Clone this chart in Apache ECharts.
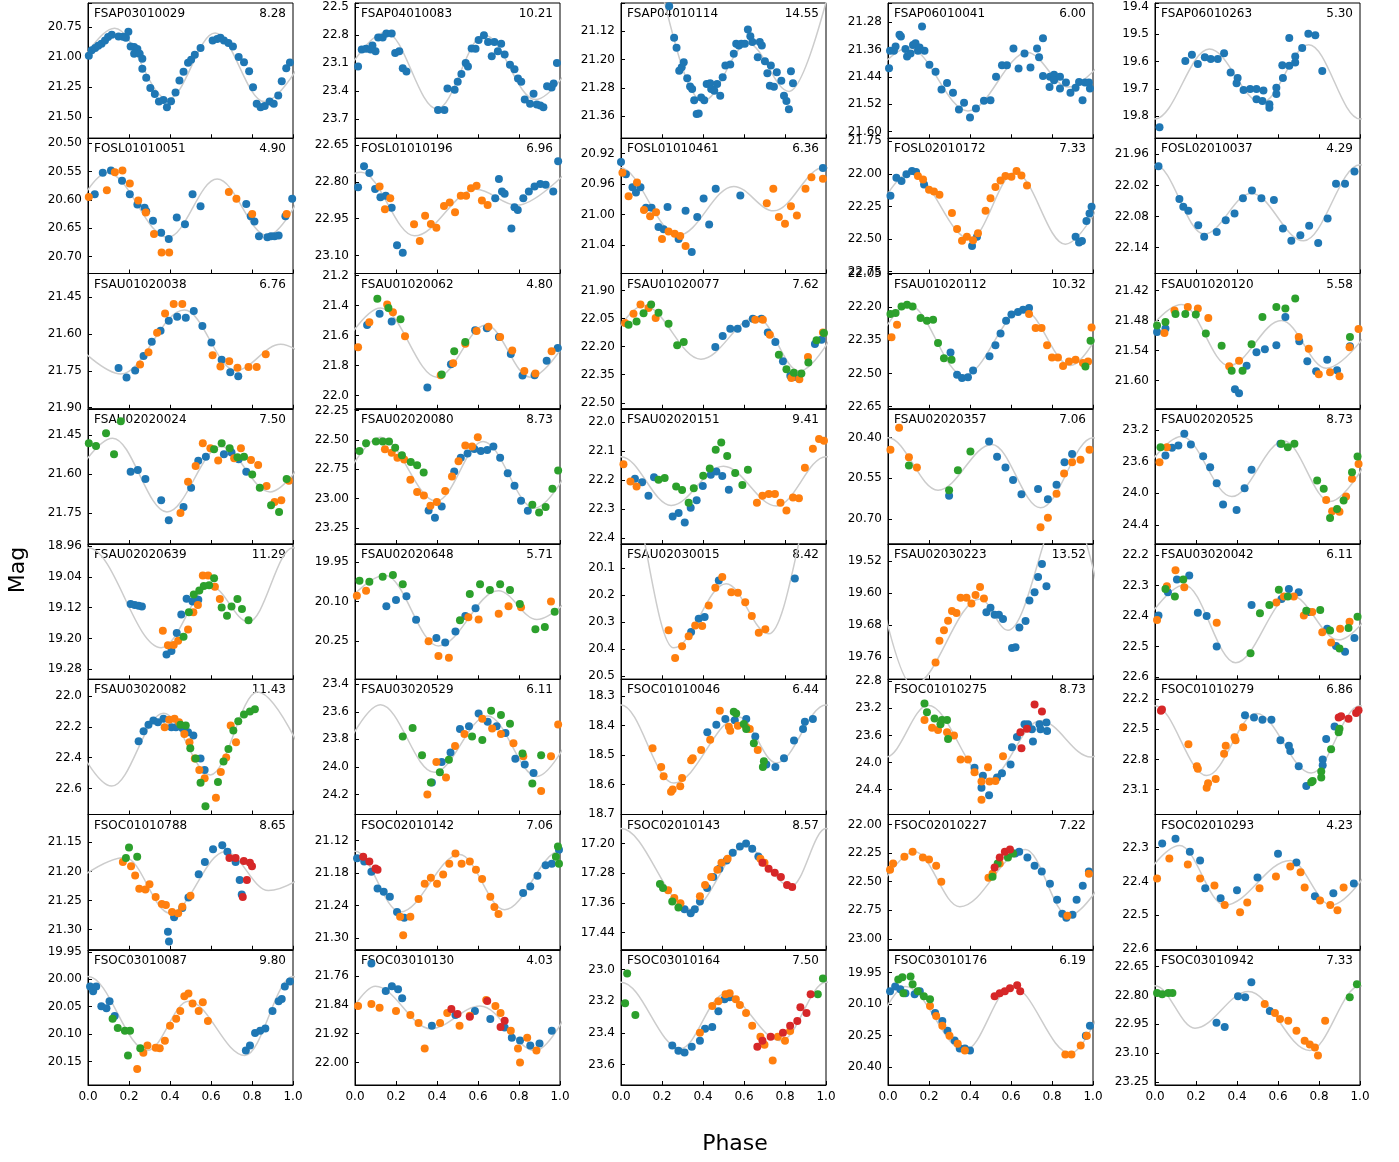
<!DOCTYPE html>
<html>
<head>
<meta charset="utf-8">
<script src="https://cdn.jsdelivr.net/npm/echarts@6/dist/echarts.min.js"></script>
<style>
  html, body { margin: 0; padding: 0; background: #fff; }
  #chart { width: 1399px; height: 1162px; }
</style>
</head>
<body>
<div id="chart"></div>
<script>
// panel labels and periods, row by row
const names = [
  'FSAP03010029','FSAP04010083','FSAP04010114','FSAP06010041','FSAP06010263',
  'FOSL01010051','FOSL01010196','FOSL01010461','FOSL02010172','FOSL02010037',
  'FSAU01020038','FSAU01020062','FSAU01020077','FSAU01020112','FSAU01020120',
  'FSAU02020024','FSAU02020080','FSAU02020151','FSAU02020357','FSAU02020525',
  'FSAU02020639','FSAU02020648','FSAU02030015','FSAU02030223','FSAU03020042',
  'FSAU03020082','FSAU03020529','FSOC01010046','FSOC01010275','FSOC01010279',
  'FSOC01010788','FSOC02010142','FSOC02010143','FSOC02010227','FSOC02010293',
  'FSOC03010087','FSOC03010130','FSOC03010164','FSOC03010176','FSOC03010942'
];
const periods = [
  '8.28','10.21','14.55','6.00','5.30','4.90','6.96','6.36','7.33','4.29',
  '6.76','4.80','7.62','10.32','5.58','7.50','8.73','9.41','7.06','8.73',
  '11.29','5.71','8.42','13.52','6.11','11.43','6.11','6.44','8.73','6.86',
  '8.65','7.06','8.57','7.22','4.23','9.80','4.03','7.50','6.19','7.33'
];

// magnitude limits (top, bottom) and tick spacing for each panel
const yLimits = [
  [20.55,21.675],[22.457,23.904],[21.041,21.422],[21.224,21.62],[19.385,19.881],
  [20.491,20.73],[22.621,23.174],[20.90,21.077],[21.727,22.765],[21.929,22.19],
  [21.353,21.905],[21.187,22.087],[21.809,22.532],[22.048,22.66],[21.386,21.656],
  [21.35,21.869],[22.233,23.387],[21.955,22.421],[20.293,20.793],[22.935,24.64],
  [18.955,19.306],[19.882,20.394],[20.011,20.511],[19.478,19.815],[22.164,22.607],
  [21.889,22.77],[23.364,24.345],[18.243,18.702],[22.77,24.77],[22.0,23.35],
  [21.102,21.335],[21.072,21.322],[17.122,17.486],[21.912,23.096],[22.202,22.602],
  [19.946,20.193],[21.686,22.063],[22.875,23.73],[19.842,20.484],[22.563,23.265]
];
const ySteps = [
  0.25,0.3,0.08,0.08,0.1, 0.05,0.15,0.04,0.25,0.06,
  0.15,0.2,0.15,0.15,0.06, 0.15,0.25,0.1,0.15,0.4,
  0.08,0.15,0.1,0.08,0.1, 0.2,0.2,0.1,0.4,0.3,
  0.05,0.06,0.08,0.25,0.1, 0.05,0.08,0.2,0.15,0.15
];
const xTicks = [0, 0.2, 0.4, 0.6, 0.8, 1.0];

// model curve: turning points [phase, mag], one beyond each edge
const curves = [
  [[-0.14,21.37],[0.13,20.76],[0.39,21.35],[0.62,20.80],[0.86,21.37],[1.13,20.76]],
  [[-0.12,23.49],[0.15,22.77],[0.40,23.59],[0.63,22.80],[0.88,23.49],[1.15,22.77]],
  [[-0.18,21.29],[0.02,20.75],[0.40,21.317],[0.62,21.155],[0.82,21.29],[1.08,20.85]],
  [[-0.12,21.47],[0.1,21.355],[0.39,21.54],[0.68,21.369],[0.88,21.47],[1.1,21.355]],
  [[-0.25,19.538],[0.0,19.81],[0.265,19.554],[0.52,19.75],[0.75,19.538],[1.0,19.81],[1.265,19.554]],
  [[-0.125,20.663],[0.094,20.552],[0.39,20.666],[0.63,20.563],[0.875,20.663],[1.094,20.552]],
  [[-0.21,22.895],[0.03,22.76],[0.29,23.02],[0.59,22.83],[0.79,22.895],[1.03,22.76]],
  [[-0.255,20.995],[-0.01,20.938],[0.28,21.027],[0.55,20.963],[0.745,20.995],[0.99,20.938],[1.28,21.027]],
  [[-0.135,22.54],[0.11,21.99],[0.40,22.50],[0.62,21.99],[0.865,22.54],[1.11,21.99]],
  [[-0.275,22.127],[0.0,21.98],[0.24,22.114],[0.47,22.035],[0.725,22.127],[1.0,21.98],[1.24,22.114]],
  [[-0.06,21.642],[0.16,21.763],[0.47,21.502],[0.72,21.749],[0.94,21.642],[1.16,21.763]],
  [[-0.145,21.877],[0.125,21.416],[0.40,21.877],[0.64,21.53],[0.855,21.877],[1.125,21.416]],
  [[-0.13,22.331],[0.11,21.98],[0.39,22.267],[0.66,22.042],[0.87,22.331],[1.11,21.98]],
  [[-0.11,22.464],[0.1,22.189],[0.37,22.509],[0.66,22.212],[0.89,22.464],[1.1,22.189]],
  [[-0.165,21.575],[0.13,21.448],[0.36,21.57],[0.617,21.48],[0.835,21.575],[1.13,21.448]],
  [[-0.112,21.669],[0.12,21.463],[0.385,21.746],[0.65,21.495],[0.888,21.669],[1.12,21.463]],
  [[-0.124,23.081],[0.124,22.477],[0.397,23.022],[0.625,22.512],[0.876,23.081],[1.124,22.477]],
  [[-0.242,22.29],[0.0,22.12],[0.245,22.288],[0.50,22.153],[0.758,22.29],[1.0,22.12],[1.245,22.288]],
  [[-0.256,20.659],[0.0,20.40],[0.244,20.594],[0.507,20.425],[0.744,20.659],[1.0,20.40],[1.244,20.594]],
  [[-0.146,24.105],[0.13,23.284],[0.374,24.042],[0.629,23.343],[0.854,24.105],[1.1,23.284]],
  [[-0.217,19.157],[0.0,18.965],[0.357,19.224],[0.597,19.064],[0.783,19.157],[1.0,18.965],[1.357,19.224]],
  [[-0.113,20.168],[0.146,20.0],[0.407,20.268],[0.70,20.059],[0.887,20.168],[1.146,20.0]],
  [[-0.279,20.343],[0.0,19.72],[0.257,20.395],[0.513,20.158],[0.721,20.343],[1.0,19.72],[1.257,20.395]],
  [[-0.13,19.37],[0.12,19.83],[0.45,19.615],[0.585,19.693],[0.87,19.37],[1.12,19.83]],
  [[-0.104,22.478],[0.143,22.298],[0.393,22.553],[0.665,22.333],[0.896,22.478],[1.143,22.298]],
  [[-0.173,21.972],[0.116,22.585],[0.368,22.11],[0.597,22.512],[0.827,21.972],[1.116,22.585]],
  [[-0.113,24.069],[0.124,23.549],[0.386,24.039],[0.647,23.63],[0.887,24.069],[1.124,23.549]],
  [[-0.242,18.527],[0.0,18.33],[0.257,18.595],[0.575,18.371],[0.758,18.527],[1.0,18.33],[1.257,18.595]],
  [[-0.256,23.384],[-0.01,23.92],[0.195,23.156],[0.488,24.248],[0.744,23.384],[0.99,23.92],[1.195,23.156]],
  [[-0.238,22.937],[0.0,22.265],[0.252,22.961],[0.495,22.343],[0.762,22.937],[1.0,22.265],[1.252,22.961]],
  [[-0.12,21.233],[0.18,21.176],[0.40,21.272],[0.67,21.166],[0.88,21.233],[1.18,21.176]],
  [[-0.27,21.248],[0.0,21.14],[0.22,21.252],[0.51,21.146],[0.73,21.248],[1.0,21.14],[1.22,21.252]],
  [[-0.17,17.315],[0.0,17.16],[0.34,17.377],[0.605,17.208],[0.83,17.315],[1.0,17.16],[1.34,17.377]],
  [[-0.12,22.798],[0.13,22.237],[0.35,22.719],[0.67,22.219],[0.88,22.798],[1.13,22.237]],
  [[-0.14,22.47],[0.12,22.294],[0.34,22.47],[0.66,22.338],[0.86,22.47],[1.12,22.294]],
  [[-0.235,20.139],[0.0,19.995],[0.29,20.13],[0.49,20.04],[0.765,20.139],[1.0,19.995],[1.29,20.13]],
  [[-0.12,21.967],[0.1,21.788],[0.37,21.906],[0.61,21.843],[0.88,21.967],[1.1,21.788]],
  [[-0.22,23.45],[0.0,23.08],[0.29,23.5],[0.505,23.156],[0.78,23.45],[1.0,23.08],[1.29,23.5]],
  [[-0.11,20.334],[0.085,20.016],[0.375,20.32],[0.605,20.016],[0.89,20.334],[1.085,20.016]],
  [[-0.245,23.086],[0.0,22.75],[0.195,22.97],[0.455,22.78],[0.755,23.086],[1.0,22.75],[1.195,22.97]]
];

// observations [phase, mag], one list per panel for each colour
const blue = [
  [[0.004,20.989],[0.018,20.944],[0.035,20.925],[0.05,20.906],[0.066,20.889],[0.083,20.861],[0.098,20.833],[0.116,20.814],[0.149,20.828],[0.171,20.83],[0.185,20.84],[0.197,20.79],[0.208,20.911],[0.225,20.917],[0.241,20.933],[0.225,20.972],[0.252,20.972],[0.265,21.014],[0.265,21.097],[0.284,21.172],[0.304,21.256],[0.326,21.306],[0.346,21.369],[0.368,21.356],[0.385,21.417],[0.405,21.367],[0.427,21.294],[0.446,21.194],[0.466,21.122],[0.488,21.047],[0.503,21.022],[0.521,20.981],[0.549,20.925],[0.608,20.861],[0.63,20.85],[0.646,20.839],[0.663,20.861],[0.685,20.883],[0.707,20.911],[0.735,21.0],[0.761,21.042],[0.786,21.117],[0.805,21.25],[0.823,21.389],[0.842,21.417],[0.862,21.406],[0.886,21.369],[0.906,21.389],[0.928,21.319],[0.945,21.2],[0.967,21.092],[0.985,21.044]],
  [[0.015,23.136],[0.033,22.955],[0.054,22.947],[0.076,22.955],[0.085,22.911],[0.1,22.973],[0.113,22.827],[0.135,22.827],[0.153,22.784],[0.179,22.784],[0.196,22.991],[0.216,22.973],[0.233,23.155],[0.251,23.191],[0.405,23.602],[0.436,23.602],[0.451,23.373],[0.486,23.384],[0.501,23.3],[0.519,23.216],[0.54,23.1],[0.551,23.136],[0.569,22.944],[0.588,22.947],[0.603,22.853],[0.629,22.802],[0.649,22.875],[0.667,23.027],[0.68,22.875],[0.697,22.973],[0.713,22.893],[0.73,23.009],[0.756,23.118],[0.778,23.165],[0.795,23.264],[0.811,23.3],[0.828,23.489],[0.854,23.536],[0.871,23.427],[0.887,23.544],[0.904,23.554],[0.919,23.573],[0.937,23.347],[0.959,23.362],[0.969,23.318],[0.985,23.1]],
  [[0.235,21.05],[0.259,21.139],[0.271,21.167],[0.284,21.232],[0.296,21.222],[0.306,21.208],[0.323,21.253],[0.337,21.276],[0.347,21.283],[0.357,21.315],[0.369,21.354],[0.379,21.352],[0.391,21.307],[0.406,21.315],[0.418,21.269],[0.435,21.267],[0.44,21.283],[0.455,21.288],[0.469,21.269],[0.484,21.302],[0.496,21.25],[0.509,21.217],[0.533,21.214],[0.55,21.184],[0.562,21.156],[0.575,21.161],[0.587,21.156],[0.604,21.156],[0.619,21.116],[0.631,21.135],[0.641,21.151],[0.667,21.194],[0.677,21.151],[0.687,21.161],[0.702,21.205],[0.714,21.239],[0.731,21.217],[0.726,21.274],[0.746,21.277],[0.76,21.236],[0.782,21.26],[0.795,21.302],[0.807,21.317],[0.819,21.34],[0.829,21.233],[0.839,21.267]],
  [[0.005,21.415],[0.01,21.364],[0.029,21.364],[0.037,21.351],[0.056,21.317],[0.063,21.322],[0.085,21.359],[0.093,21.381],[0.11,21.372],[0.122,21.347],[0.134,21.342],[0.146,21.364],[0.154,21.354],[0.166,21.293],[0.178,21.364],[0.202,21.405],[0.232,21.425],[0.261,21.477],[0.288,21.458],[0.317,21.487],[0.346,21.536],[0.371,21.516],[0.4,21.559],[0.429,21.533],[0.468,21.51],[0.5,21.509],[0.527,21.44],[0.556,21.406],[0.58,21.406],[0.612,21.357],[0.637,21.416],[0.666,21.372],[0.695,21.413],[0.727,21.357],[0.756,21.327],[0.737,21.383],[0.756,21.438],[0.788,21.47],[0.79,21.44],[0.81,21.434],[0.81,21.45],[0.839,21.44],[0.839,21.474],[0.868,21.457],[0.89,21.487],[0.915,21.472],[0.932,21.455],[0.949,21.509],[0.961,21.457],[0.98,21.457],[0.985,21.474]],
  [[0.022,19.841],[0.148,19.598],[0.18,19.575],[0.209,19.609],[0.243,19.584],[0.272,19.59],[0.306,19.59],[0.337,19.569],[0.369,19.64],[0.403,19.66],[0.398,19.679],[0.432,19.704],[0.464,19.7],[0.495,19.7],[0.495,19.738],[0.529,19.706],[0.524,19.744],[0.558,19.756],[0.558,19.769],[0.592,19.696],[0.592,19.719],[0.624,19.66],[0.621,19.613],[0.655,19.615],[0.655,19.513],[0.684,19.581],[0.684,19.603],[0.718,19.55],[0.748,19.498],[0.782,19.503],[0.816,19.634]],
  [[0.033,20.59],[0.072,20.552],[0.112,20.548],[0.166,20.566],[0.204,20.59],[0.241,20.608],[0.276,20.614],[0.284,20.62],[0.317,20.637],[0.357,20.658],[0.394,20.669],[0.433,20.631],[0.473,20.643],[0.51,20.59],[0.549,20.611],[0.772,20.607],[0.794,20.629],[0.812,20.638],[0.834,20.664],[0.875,20.666],[0.893,20.664],[0.91,20.664],[0.93,20.663],[0.963,20.629],[0.996,20.598]],
  [[0.015,22.821],[0.044,22.735],[0.07,22.763],[0.098,22.829],[0.124,22.862],[0.15,22.856],[0.179,22.905],[0.205,23.059],[0.233,23.089],[0.702,22.788],[0.717,22.839],[0.73,22.848],[0.684,22.866],[0.763,22.99],[0.778,22.903],[0.794,22.914],[0.821,22.866],[0.848,22.839],[0.876,22.818],[0.904,22.808],[0.93,22.811],[0.967,22.839],[0.991,22.715]],
  [[0.0,20.931],[0.024,20.947],[0.056,20.964],[0.073,20.971],[0.095,20.964],[0.122,20.991],[0.149,20.991],[0.183,21.016],[0.208,21.019],[0.227,20.99],[0.281,21.032],[0.315,20.995],[0.345,21.049],[0.372,21.003],[0.403,20.979],[0.43,21.013],[0.462,20.966],[0.582,20.975],[0.985,20.939]],
  [[0.012,22.169],[0.041,22.03],[0.066,22.056],[0.09,22.004],[0.117,21.978],[0.137,21.986],[0.176,22.082],[0.41,22.554],[0.434,22.483],[0.915,22.483],[0.932,22.528],[0.946,22.515],[0.968,22.363],[0.983,22.305],[0.993,22.253]],
  [[0.017,21.983],[0.119,22.046],[0.138,22.061],[0.163,22.069],[0.211,22.097],[0.24,22.119],[0.301,22.11],[0.345,22.087],[0.388,22.074],[0.429,22.045],[0.473,22.03],[0.519,22.045],[0.58,22.048],[0.624,22.103],[0.665,22.127],[0.709,22.116],[0.752,22.098],[0.796,22.131],[0.842,22.084],[0.883,22.017],[0.927,22.017],[0.973,21.993]],
  [[0.149,21.739],[0.188,21.777],[0.23,21.749],[0.271,21.69],[0.311,21.632],[0.354,21.587],[0.394,21.546],[0.435,21.53],[0.477,21.534],[0.516,21.506],[0.558,21.567],[0.602,21.635],[0.652,21.705],[0.694,21.756],[0.733,21.772]],
  [[0.059,21.53],[0.12,21.455],[0.179,21.507],[0.353,21.946],[0.468,21.791],[0.586,21.564],[0.643,21.552],[0.702,21.609],[0.76,21.723],[0.817,21.866],[0.876,21.864],[0.935,21.768],[0.989,21.682]],
  [[0.46,22.202],[0.496,22.143],[0.533,22.104],[0.569,22.104],[0.609,22.078],[0.643,22.051],[0.685,22.051],[0.716,22.125],[0.753,22.175],[0.79,22.278],[0.826,22.356],[0.846,22.362],[0.946,22.186],[0.978,22.163]],
  [[0.305,22.405],[0.337,22.506],[0.361,22.521],[0.39,22.518],[0.415,22.487],[0.495,22.423],[0.524,22.373],[0.549,22.32],[0.576,22.262],[0.602,22.234],[0.634,22.222],[0.659,22.212],[0.688,22.204]],
  [[0.01,21.503],[0.051,21.496],[0.39,21.617],[0.41,21.625],[0.447,21.57],[0.495,21.543],[0.536,21.537],[0.592,21.529],[0.636,21.473],[0.704,21.521],[0.743,21.561],[0.786,21.581],[0.84,21.558],[0.888,21.579],[0.951,21.531]],
  [[0.208,21.592],[0.243,21.585],[0.28,21.62],[0.357,21.701],[0.394,21.778],[0.466,21.727],[0.503,21.653],[0.538,21.55],[0.575,21.534],[0.663,21.525],[0.7,21.518],[0.735,21.544],[0.772,21.592]],
  [[0.359,23.101],[0.39,23.162],[0.423,23.066],[0.484,22.769],[0.516,22.652],[0.549,22.614],[0.582,22.576],[0.614,22.594],[0.645,22.585],[0.675,22.556],[0.708,22.652],[0.745,22.783],[0.778,22.891],[0.81,23.017],[0.843,23.104]],
  [[0.068,22.196],[0.103,22.208],[0.134,22.255],[0.161,22.191],[0.252,22.326],[0.281,22.314],[0.311,22.347],[0.34,22.296],[0.369,22.27],[0.399,22.221],[0.438,22.182],[0.465,22.171],[0.494,22.187],[0.526,22.234]],
  [[0.298,20.615],[0.493,20.414],[0.532,20.47],[0.573,20.51],[0.61,20.556],[0.651,20.609],[0.732,20.59],[0.78,20.628],[0.822,20.574],[0.861,20.491],[0.898,20.46]],
  [[0.051,23.524],[0.083,23.427],[0.114,23.398],[0.143,23.251],[0.175,23.385],[0.235,23.533],[0.269,23.672],[0.301,23.874],[0.332,24.143],[0.398,24.211],[0.437,23.937],[0.471,23.705],[0.612,23.377]],
  [[0.208,19.111],[0.228,19.113],[0.247,19.115],[0.263,19.117],[0.383,19.242],[0.407,19.233],[0.433,19.186],[0.455,19.138],[0.481,19.097],[0.51,19.104],[0.538,19.1]],
  [[0.153,20.118],[0.2,20.094],[0.251,20.08],[0.298,20.169],[0.397,20.238],[0.44,20.255],[0.49,20.213],[0.538,20.155],[0.588,20.125]],
  [[0.342,20.336],[0.379,20.287],[0.408,20.281],[0.477,20.146],[0.848,20.139]],
  [[0.48,19.648],[0.5,19.637],[0.52,19.654],[0.541,19.654],[0.561,19.665],[0.605,19.737],[0.622,19.735],[0.641,19.686],[0.671,19.67],[0.69,19.619],[0.715,19.598],[0.732,19.56],[0.751,19.528],[0.773,19.583]],
  [[0.017,22.398],[0.063,22.322],[0.107,22.28],[0.167,22.267],[0.209,22.389],[0.252,22.4],[0.301,22.5],[0.471,22.364],[0.617,22.344],[0.653,22.311],[0.701,22.322],[0.75,22.387],[0.84,22.442],[0.883,22.498],[0.927,22.517],[0.973,22.472]],
  [[0.247,22.293],[0.271,22.228],[0.295,22.186],[0.319,22.158],[0.341,22.169],[0.368,22.147],[0.407,22.201],[0.429,22.201],[0.46,22.206],[0.488,22.234],[0.514,22.256],[0.549,22.405],[0.569,22.48]],
  [[0.375,24.113],[0.423,23.965],[0.466,23.895],[0.512,23.724],[0.556,23.705],[0.603,23.613],[0.647,23.672],[0.691,23.705],[0.734,23.754],[0.782,23.94],[0.828,23.982],[0.871,24.044]],
  [[0.421,18.423],[0.465,18.397],[0.509,18.378],[0.555,18.382],[0.611,18.378],[0.655,18.437],[0.709,18.532],[0.753,18.541],[0.795,18.511],[0.844,18.451],[0.888,18.412],[0.897,18.387],[0.936,18.378]],
  [[0.422,24.08],[0.463,24.197],[0.456,24.374],[0.493,24.486],[0.532,24.222],[0.556,24.161],[0.598,24.029],[0.605,23.775],[0.629,23.623],[0.666,23.435],[0.683,23.435],[0.702,23.511],[0.707,23.689],[0.739,23.435],[0.773,23.409],[0.744,23.511],[0.776,23.536]],
  [[0.439,22.36],[0.483,22.383],[0.524,22.404],[0.568,22.404],[0.612,22.608],[0.653,22.665],[0.66,22.716],[0.701,22.869],[0.738,23.066],[0.818,22.801],[0.818,22.859],[0.835,22.597],[0.876,22.472]],
  [[0.395,21.321],[0.39,21.304],[0.42,21.279],[0.46,21.263],[0.49,21.245],[0.54,21.205],[0.57,21.184],[0.61,21.162],[0.655,21.155],[0.68,21.166],[0.72,21.184],[0.74,21.215],[0.75,21.24]],
  [[0.01,21.153],[0.045,21.159],[0.08,21.178],[0.11,21.209],[0.14,21.215],[0.17,21.224],[0.205,21.252],[0.24,21.263],[0.82,21.217],[0.855,21.205],[0.89,21.185],[0.93,21.166],[0.96,21.163],[0.995,21.137]],
  [[0.31,17.377],[0.34,17.388],[0.36,17.377],[0.385,17.356],[0.42,17.32],[0.45,17.29],[0.48,17.268],[0.515,17.246],[0.545,17.225],[0.58,17.208],[0.61,17.2],[0.64,17.214],[0.67,17.235]],
  [[0.62,22.254],[0.64,22.237],[0.68,22.289],[0.715,22.36],[0.75,22.412],[0.79,22.518],[0.825,22.658],[0.85,22.781],[0.87,22.816],[0.9,22.79],[0.92,22.658],[0.95,22.535],[0.98,22.412]],
  [[0.035,22.288],[0.1,22.274],[0.17,22.312],[0.22,22.338],[0.245,22.42],[0.32,22.45],[0.4,22.426],[0.5,22.388],[0.6,22.318],[0.69,22.344],[0.78,22.444],[0.87,22.435],[0.97,22.406]],
  [[0.01,20.013],[0.025,20.022],[0.04,20.013],[0.065,20.049],[0.09,20.053],[0.105,20.04],[0.13,20.067],[0.77,20.13],[0.79,20.121],[0.815,20.098],[0.84,20.094],[0.865,20.09],[0.9,20.058],[0.93,20.04],[0.945,20.036],[0.96,20.013],[0.985,20.004]],
  [[0.08,21.724],[0.15,21.801],[0.18,21.788],[0.21,21.796],[0.23,21.821],[0.375,21.898],[0.49,21.868],[0.585,21.857],[0.66,21.879],[0.73,21.903],[0.765,21.931],[0.805,21.939],[0.855,21.953],[0.9,21.947],[0.96,21.912]],
  [[0.25,23.481],[0.28,23.513],[0.31,23.525],[0.345,23.488],[0.385,23.45],[0.41,23.375],[0.445,23.363],[0.475,23.263],[0.505,23.188],[0.53,23.175]],
  [[0.01,20.039],[0.035,20.016],[0.06,20.03],[0.085,20.048],[0.13,20.053],[0.155,20.039],[0.23,20.142],[0.265,20.18],[0.29,20.227],[0.325,20.273],[0.35,20.311],[0.375,20.311],[0.4,20.32],[0.985,20.203],[0.965,20.25]],
  [[0.3,22.942],[0.34,22.964],[0.405,22.804],[0.44,22.809],[0.47,22.732],[0.56,22.881]]
];
const orange = [
  [],[],[],[],[],
  [[0.004,20.595],[0.092,20.583],[0.131,20.551],[0.168,20.548],[0.204,20.571],[0.245,20.601],[0.282,20.622],[0.322,20.66],[0.359,20.693],[0.396,20.693],[0.687,20.586],[0.724,20.598],[0.801,20.625],[0.969,20.625]],
  [[0.12,22.818],[0.172,22.866],[0.146,22.911],[0.288,22.973],[0.316,23.041],[0.342,22.938],[0.37,22.972],[0.397,22.987],[0.434,22.898],[0.462,22.884],[0.488,22.924],[0.516,22.856],[0.542,22.856],[0.566,22.825],[0.593,22.815],[0.619,22.876],[0.647,22.894]],
  [[0.007,20.945],[0.037,20.976],[0.078,20.958],[0.112,20.994],[0.142,21.002],[0.171,20.997],[0.2,21.032],[0.232,21.022],[0.262,21.025],[0.289,21.028],[0.315,21.041],[0.711,20.985],[0.743,20.966],[0.77,21.003],[0.8,21.012],[0.829,20.989],[0.858,21.001],[0.9,20.966],[0.929,20.951],[0.985,20.953]],
  [[0.146,22.017],[0.171,22.043],[0.2,22.122],[0.224,22.135],[0.251,22.161],[0.312,22.3],[0.337,22.423],[0.361,22.514],[0.385,22.483],[0.415,22.509],[0.439,22.457],[0.476,22.284],[0.5,22.187],[0.524,22.101],[0.549,22.051],[0.573,22.017],[0.602,22.022],[0.627,21.978],[0.651,22.012],[0.678,22.09]],
  [],
  [[0.254,21.724],[0.295,21.674],[0.337,21.595],[0.376,21.516],[0.418,21.477],[0.46,21.477],[0.608,21.687],[0.646,21.733],[0.689,21.711],[0.729,21.738],[0.783,21.735],[0.823,21.735],[0.867,21.683]],
  [[0.015,21.677],[0.07,21.511],[0.157,21.393],[0.185,21.445],[0.244,21.605],[0.418,21.864],[0.479,21.784],[0.538,21.655],[0.593,21.57],[0.651,21.541],[0.708,21.609],[0.767,21.7],[0.826,21.836],[0.88,21.852],[0.959,21.705]],
  [[0.02,22.074],[0.061,22.024],[0.095,21.975],[0.134,21.994],[0.169,22.047],[0.655,22.056],[0.692,22.056],[0.726,22.136],[0.831,22.367],[0.87,22.374],[0.912,22.255],[0.985,22.125]],
  [[0.017,22.337],[0.044,22.28],[0.688,22.231],[0.72,22.295],[0.749,22.295],[0.776,22.373],[0.8,22.428],[0.829,22.428],[0.854,22.466],[0.883,22.446],[0.915,22.438],[0.951,22.453],[0.976,22.446],[0.993,22.292]],
  [[0.046,21.505],[0.095,21.46],[0.16,21.453],[0.209,21.456],[0.26,21.475],[0.362,21.571],[0.41,21.56],[0.701,21.513],[0.75,21.536],[0.799,21.587],[0.854,21.583],[0.9,21.591],[0.949,21.533],[0.993,21.497]],
  [[0.451,21.75],[0.488,21.63],[0.525,21.57],[0.56,21.482],[0.597,21.502],[0.635,21.549],[0.713,21.54],[0.746,21.502],[0.795,21.547],[0.83,21.566],[0.871,21.646],[0.91,21.708],[0.943,21.701],[0.98,21.626]],
  [[0.146,22.579],[0.179,22.609],[0.207,22.652],[0.24,22.667],[0.27,22.839],[0.303,22.944],[0.336,22.973],[0.368,23.06],[0.399,23.028],[0.44,22.935],[0.473,22.81],[0.505,22.681],[0.538,22.547],[0.571,22.556],[0.599,22.477]],
  [[0.012,22.146],[0.046,22.206],[0.076,22.223],[0.663,22.279],[0.69,22.255],[0.721,22.249],[0.751,22.249],[0.778,22.279],[0.807,22.306],[0.839,22.261],[0.868,22.263],[0.897,22.158],[0.936,22.093],[0.966,22.059],[0.99,22.065]],
  [[0.012,20.445],[0.054,20.363],[0.102,20.472],[0.141,20.51],[0.744,20.731],[0.78,20.696],[0.822,20.607],[0.859,20.532],[0.898,20.491],[0.939,20.482],[0.983,20.445]],
  [[0.022,23.608],[0.058,23.419],[0.835,24.084],[0.864,24.227],[0.9,24.232],[0.932,24.042],[0.961,23.819],[0.993,23.63]],
  [[0.365,19.18],[0.39,19.218],[0.418,19.217],[0.44,19.206],[0.488,19.177],[0.514,19.132],[0.536,19.113],[0.56,19.037],[0.586,19.037],[0.619,19.066],[0.643,19.098]],
  [[0.009,20.078],[0.054,20.059],[0.359,20.25],[0.407,20.306],[0.458,20.313],[0.553,20.159],[0.603,20.168],[0.701,20.146],[0.749,20.118],[0.81,20.121],[0.956,20.1]],
  [[0.232,20.33],[0.264,20.432],[0.298,20.389],[0.33,20.352],[0.362,20.312],[0.396,20.314],[0.428,20.238],[0.46,20.173],[0.494,20.133],[0.538,20.189],[0.57,20.191],[0.606,20.226],[0.638,20.277],[0.672,20.339],[0.704,20.326]],
  [[0.232,19.773],[0.251,19.719],[0.273,19.693],[0.293,19.669],[0.312,19.645],[0.334,19.65],[0.354,19.612],[0.383,19.612],[0.407,19.626],[0.427,19.605],[0.449,19.585],[0.468,19.614]],
  [[0.01,22.413],[0.058,22.302],[0.1,22.25],[0.143,22.306],[0.301,22.422],[0.592,22.356],[0.629,22.336],[0.677,22.336],[0.726,22.398],[0.767,22.387],[0.816,22.453],[0.859,22.487],[0.903,22.442],[0.949,22.419]],
  [[0.374,22.201],[0.396,22.153],[0.422,22.147],[0.444,22.169],[0.47,22.245],[0.495,22.3],[0.521,22.405],[0.543,22.48],[0.569,22.534],[0.624,22.661],[0.648,22.493],[0.674,22.399],[0.696,22.191],[0.722,22.3]],
  [[0.353,24.2],[0.397,23.965],[0.444,24.076],[0.488,23.848],[0.534,23.762],[0.621,23.65],[0.669,23.722],[0.712,23.762],[0.773,23.829],[0.821,23.923],[0.908,24.175],[0.956,23.923],[0.991,23.692]],
  [[0.154,18.477],[0.196,18.541],[0.208,18.572],[0.244,18.625],[0.252,18.617],[0.289,18.606],[0.298,18.578],[0.342,18.518],[0.35,18.511],[0.391,18.483],[0.435,18.448],[0.482,18.35],[0.526,18.404],[0.533,18.418],[0.57,18.401],[0.611,18.406],[0.628,18.412],[0.667,18.483]],
  [[0.178,23.374],[0.215,23.486],[0.244,23.521],[0.288,23.552],[0.322,23.602],[0.354,23.958],[0.39,23.958],[0.422,24.146],[0.456,24.283],[0.488,24.07],[0.495,24.283],[0.524,24.273],[0.456,24.552],[0.561,23.907]],
  [[0.163,22.648],[0.204,22.869],[0.209,22.893],[0.252,23.083],[0.259,23.039],[0.296,22.995],[0.337,22.743],[0.345,22.665],[0.388,22.58],[0.393,22.608],[0.43,22.478]],
  [[0.17,21.184],[0.21,21.191],[0.23,21.207],[0.25,21.23],[0.28,21.231],[0.30,21.222],[0.33,21.244],[0.36,21.256],[0.38,21.258],[0.41,21.27],[0.44,21.272],[0.46,21.261],[0.50,21.242]],
  [[0.22,21.261],[0.235,21.295],[0.27,21.261],[0.31,21.228],[0.34,21.2],[0.37,21.189],[0.40,21.2],[0.43,21.183],[0.46,21.163],[0.49,21.144],[0.52,21.163],[0.56,21.159],[0.59,21.174],[0.62,21.191],[0.66,21.224],[0.68,21.243],[0.70,21.256]],
  [[0.23,17.326],[0.26,17.347],[0.29,17.361],[0.385,17.342],[0.41,17.312],[0.44,17.29],[0.47,17.271],[0.49,17.252],[0.52,17.241],[0.68,17.241],[0.70,17.252]],
  [[0.01,22.395],[0.025,22.342],[0.08,22.281],[0.12,22.237],[0.17,22.289],[0.20,22.307],[0.235,22.36],[0.26,22.5],[0.49,22.465],[0.51,22.43],[0.545,22.342],[0.875,22.798],[0.98,22.43]],
  [[0.01,22.391],[0.07,22.332],[0.16,22.35],[0.22,22.391],[0.29,22.412],[0.34,22.47],[0.415,22.491],[0.45,22.462],[0.51,22.42],[0.59,22.385],[0.66,22.356],[0.71,22.373],[0.73,22.418],[0.805,22.456],[0.855,22.47],[0.89,22.485],[0.92,22.418]],
  [[0.24,20.164],[0.27,20.134],[0.29,20.121],[0.33,20.125],[0.35,20.126],[0.375,20.112],[0.40,20.085],[0.43,20.072],[0.45,20.058],[0.47,20.031],[0.49,20.026],[0.51,20.044],[0.54,20.058],[0.56,20.042],[0.585,20.076]],
  [[0.015,21.843],[0.08,21.837],[0.12,21.848],[0.2,21.857],[0.27,21.868],[0.31,21.89],[0.34,21.961],[0.415,21.89],[0.45,21.862],[0.51,21.898],[0.56,21.87],[0.64,21.826],[0.685,21.843],[0.71,21.862],[0.76,21.912],[0.795,21.961],[0.805,22.0],[0.84,21.931],[0.885,21.967]],
  [[0.385,23.4],[0.445,23.231],[0.475,23.2],[0.51,23.156],[0.53,23.15],[0.56,23.188],[0.58,23.225],[0.61,23.275],[0.64,23.356],[0.68,23.425],[0.70,23.475],[0.74,23.575],[0.765,23.425],[0.80,23.45],[0.825,23.388]],
  [[0.205,20.109],[0.235,20.156],[0.265,20.203],[0.30,20.25],[0.34,20.288],[0.375,20.32],[0.865,20.339],[0.895,20.339],[0.94,20.297],[0.97,20.25]],
  [[0.535,22.845],[0.585,22.891],[0.61,22.922],[0.65,22.932],[0.69,22.983],[0.73,23.035],[0.755,23.055],[0.78,23.07],[0.795,23.112],[0.83,22.932]]
];
const green = [
  [],[],[],[],[],[],[],[],[],[],[],
  [[0.109,21.355],[0.163,21.416],[0.222,21.491],[0.423,21.859],[0.484,21.705],[0.538,21.643]],
  [[0.037,22.083],[0.076,22.065],[0.11,22.021],[0.147,21.975],[0.183,22.019],[0.232,22.078],[0.274,22.193],[0.306,22.175],[0.77,22.243],[0.807,22.321],[0.843,22.34],[0.88,22.344],[0.914,22.285],[0.954,22.166],[0.99,22.127]],
  [[0.012,22.231],[0.037,22.227],[0.066,22.197],[0.093,22.189],[0.12,22.197],[0.159,22.249],[0.19,22.262],[0.22,22.257],[0.244,22.363],[0.273,22.431],[0.31,22.438],[0.988,22.352],[0.963,22.469]],
  [[0.01,21.49],[0.051,21.483],[0.1,21.467],[0.148,21.467],[0.199,21.468],[0.248,21.506],[0.325,21.53],[0.374,21.58],[0.427,21.58],[0.471,21.527],[0.524,21.473],[0.592,21.453],[0.636,21.456],[0.684,21.436],[0.951,21.513]],
  [[0.004,21.482],[0.039,21.493],[0.088,21.444],[0.127,21.525],[0.16,21.398],[0.615,21.505],[0.652,21.482],[0.691,21.502],[0.729,21.536],[0.761,21.534],[0.801,21.602],[0.838,21.653],[0.893,21.72],[0.932,21.746],[0.969,21.62]],
  [[0.022,22.594],[0.054,22.527],[0.102,22.512],[0.135,22.512],[0.166,22.512],[0.196,22.565],[0.229,22.629],[0.272,22.687],[0.303,22.716],[0.335,22.777],[0.865,23.052],[0.898,23.119],[0.93,23.072],[0.963,22.915],[0.991,22.76]],
  [[0.183,22.2],[0.213,22.194],[0.269,22.223],[0.298,22.235],[0.33,22.279],[0.355,22.229],[0.401,22.186],[0.433,22.161],[0.462,22.096],[0.489,22.071],[0.518,22.118],[0.557,22.176],[0.592,22.218],[0.619,22.165]],
  [[0.102,20.503],[0.298,20.594],[0.341,20.52],[0.402,20.451]],
  [[0.027,23.419],[0.617,23.377],[0.648,23.419],[0.68,23.377],[0.791,23.84],[0.823,23.945],[0.854,24.312],[0.888,24.198],[0.92,24.093],[0.961,23.735],[0.988,23.537]],
  [[0.466,19.196],[0.492,19.132],[0.516,19.086],[0.543,19.076],[0.565,19.064],[0.591,19.062],[0.615,19.044],[0.652,19.12],[0.678,19.141],[0.7,19.117],[0.729,19.098],[0.751,19.124],[0.783,19.153]],
  [[0.022,20.021],[0.07,20.025],[0.135,20.006],[0.185,19.999],[0.233,20.034],[0.512,20.171],[0.56,20.071],[0.61,20.034],[0.658,20.056],[0.708,20.034],[0.756,20.056],[0.804,20.109],[0.88,20.205],[0.926,20.196],[0.974,20.138]],
  [],[],
  [[0.051,22.311],[0.097,22.336],[0.138,22.28],[0.466,22.522],[0.512,22.391],[0.558,22.364],[0.604,22.314],[0.648,22.336],[0.738,22.383],[0.806,22.38],[0.854,22.447],[0.9,22.506],[0.944,22.439],[0.988,22.402]],
  [[0.451,22.186],[0.477,22.191],[0.499,22.339],[0.525,22.405],[0.549,22.563],[0.573,22.716],[0.634,22.558],[0.661,22.425],[0.685,22.344],[0.709,22.223],[0.733,22.162],[0.761,22.118],[0.79,22.099],[0.814,22.085]],
  [[0.233,23.779],[0.281,23.717],[0.327,23.915],[0.37,24.113],[0.414,24.039],[0.458,23.947],[0.571,23.779],[0.621,23.804],[0.664,23.593],[0.712,23.623],[0.756,23.687],[0.817,23.903],[0.865,24.121],[0.908,23.915]],
  [[0.55,18.353],[0.562,18.359],[0.599,18.395],[0.611,18.412],[0.648,18.46],[0.697,18.521],[0.692,18.541]],
  [[0.178,23.13],[0.19,23.257],[0.227,23.349],[0.256,23.435],[0.263,23.374],[0.288,23.374],[0.293,23.653]],
  [[0.762,23.029],[0.769,23.015],[0.811,22.92],[0.811,22.981],[0.859,22.699],[0.896,22.529],[0.9,22.495]],
  [[0.2,21.159],[0.185,21.177],[0.24,21.175]],
  [[0.99,21.131],[0.98,21.15],[0.995,21.163]],
  [[0.19,17.309],[0.205,17.32],[0.25,17.356],[0.28,17.372]],
  [[0.51,22.456],[0.535,22.342],[0.585,22.289],[0.61,22.254]],
  [],
  [[0.12,20.072],[0.145,20.089],[0.18,20.094],[0.205,20.094],[0.195,20.139],[0.255,20.126]],
  [],
  [[0.03,23.025],[0.02,23.213],[0.07,23.288],[0.96,23.156],[0.985,23.056]],
  [[0.05,19.983],[0.07,19.973],[0.11,19.969],[0.12,20.006],[0.145,20.039],[0.175,20.063],[0.205,20.077],[0.075,20.048]],
  [[0.01,22.788],[0.035,22.794],[0.065,22.788],[0.085,22.788],[0.95,22.809],[0.985,22.742]]
];
const red = [
  [],[],[],[],[],[],[],[],[],[],
  [],[],[],[],[],[],[],[],[],[],
  [],[],[],[],[],[],[],[],
  [[0.646,23.552],[0.651,23.79],[0.678,23.501],[0.715,23.145],[0.751,23.247]],
  [[0.029,22.315],[0.034,22.302],[0.896,22.383],[0.908,22.37],[0.944,22.394],[0.981,22.336],[0.993,22.309]],
  [[0.69,21.177],[0.72,21.177],[0.76,21.182],[0.79,21.185],[0.755,21.244],[0.775,21.215],[0.80,21.191]],
  [[0.04,21.15],[0.07,21.159],[0.1,21.172],[0.11,21.174]],
  [[0.69,17.252],[0.72,17.268],[0.75,17.279],[0.78,17.29],[0.81,17.312],[0.835,17.317]],
  [[0.52,22.377],[0.545,22.289],[0.57,22.237],[0.595,22.219]],
  [],
  [],
  [[0.47,21.851],[0.5,21.865],[0.56,21.873],[0.645,21.829],[0.71,21.901],[0.73,21.884]],
  [[0.665,23.488],[0.69,23.45],[0.73,23.425],[0.79,23.4],[0.825,23.356],[0.86,23.325],[0.875,23.238],[0.905,23.275],[0.925,23.156]],
  [[0.52,20.063],[0.545,20.048],[0.57,20.039],[0.595,20.025],[0.63,20.011],[0.645,20.039]],
  []
];

const chart = echarts.init(document.getElementById('chart'));

const colLeft = [88, 355, 621, 888, 1155];
const panelW = 205, panelH = 135.25, firstTop = 3;
const font = 'DejaVu Sans';
const dotColors = ['#1f77b4', '#ff7f0e', '#2ca02c', '#d62728'];
const groups = [blue, orange, green, red];

const grid = [], xAxis = [], yAxis = [], series = [], title = [];

names.forEach((name, i) => {
  const row = Math.floor(i / 5), col = i % 5;
  const left = colLeft[col], top = firstTop + row * panelH;
  const step = ySteps[i];
  const dec = (String(step).split('.')[1] || '').length;

  grid.push({
    left: left, top: top, width: panelW, height: panelH,
    show: true, backgroundColor: '#fff', borderColor: '#000', borderWidth: 1
  });

  xAxis.push({
    gridIndex: i, type: 'value', min: xTicks[0], max: xTicks[xTicks.length - 1],
    interval: xTicks[1] - xTicks[0],
    axisLine: { show: true, onZero: false, lineStyle: { color: '#000', width: 1 } },
    axisTick: { show: true, inside: true, length: 4, lineStyle: { color: '#000' } },
    axisLabel: {
      show: row === 7, margin: 6, color: '#000', fontFamily: font, fontSize: 12,
      formatter: v => v.toFixed(1)
    },
    splitLine: { show: false }
  });

  yAxis.push({
    gridIndex: i, type: 'value', inverse: true,
    min: yLimits[i][0], max: yLimits[i][1],
    minInterval: step, maxInterval: step,
    axisLine: { show: true, onZero: false, lineStyle: { color: '#000', width: 1 } },
    axisTick: { show: true, inside: true, length: 4, lineStyle: { color: '#000' } },
    axisLabel: {
      margin: 6, color: '#000', fontFamily: font, fontSize: 12,
      formatter: v => {
        const k = v / step;
        return Math.abs(k - Math.round(k)) < 1e-6 ? v.toFixed(dec) : '';
      }
    },
    splitLine: { show: false }
  });

  const ts = { fontFamily: font, fontSize: 12, fontWeight: 'normal', color: '#000' };
  title.push({ text: name, left: left + 6, top: top + 5, padding: 0, z: 1, textStyle: ts });
  title.push({ text: periods[i], right: 1399 - left - panelW + 7, top: top + 5, padding: 0, z: 1, textStyle: ts });

  series.push({
    type: 'line', xAxisIndex: i, yAxisIndex: i, data: curves[i],
    smooth: 0.36, smoothMonotone: 'x', showSymbol: false, silent: true, clip: true,
    lineStyle: { color: '#cccccc', width: 1.5 }, z: 1
  });
  groups.forEach((g, k) => {
    if (!g[i].length) return;
    series.push({
      type: 'scatter', xAxisIndex: i, yAxisIndex: i, data: g[i],
      symbolSize: 8, itemStyle: { color: dotColors[k], opacity: 1 }, z: 3
    });
  });
});

chart.setOption({
  animation: false,
  backgroundColor: '#fff',
  title: title,
  grid: grid,
  xAxis: xAxis,
  yAxis: yAxis,
  series: series,
  graphic: [
    { type: 'text', x: 18, y: 570, rotation: Math.PI / 2,
      style: { text: 'Mag', fontFamily: font, fontSize: 22, fill: '#000', align: 'center', verticalAlign: 'middle' } },
    { type: 'text', x: 735, y: 1144,
      style: { text: 'Phase', fontFamily: font, fontSize: 22, fill: '#000', align: 'center', verticalAlign: 'middle' } }
  ]
});
</script>
</body>
</html>
